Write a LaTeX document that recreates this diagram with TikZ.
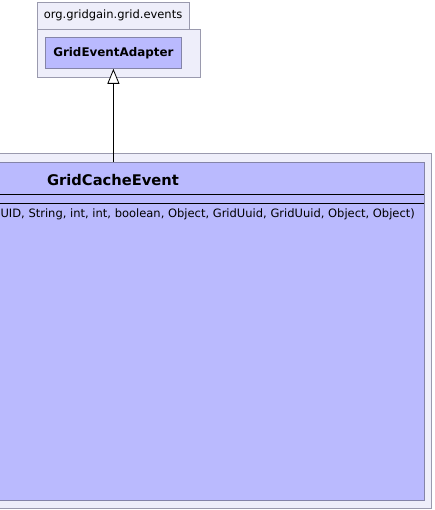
\documentclass[tikz,border=0pt]{standalone}
\usepackage{fontspec}
\setmainfont{DejaVu Sans}
\usetikzlibrary{arrows.meta}
\definecolor{pkgfill}{HTML}{EEEEFA}
\definecolor{pkgline}{HTML}{9A9AAE}
\definecolor{clsfill}{HTML}{BABAFE}
\definecolor{clsline}{HTML}{8484A8}
\begin{document}
\begin{tikzpicture}[x=1pt,y=-1pt,
  pkg/.style={draw=pkgline, fill=pkgfill, line width=0.8pt, inner sep=0pt, anchor=north west},
  cls/.style={draw=clsline, fill=clsfill, line width=0.8pt, inner sep=0pt, anchor=north west},
  lbl/.style={inner sep=0pt, text=black},
  sepline/.style={draw=black, line width=0.8pt},
  inherit/.style={draw=black, line width=0.8pt, -{Triangle[open, length=15pt, width=12pt, fill=white]}}]
\useasboundingbox (0,0) rectangle (434,510);
\clip (0,0) rectangle (434,510);
% upper package
\node[pkg, minimum width=152pt, minimum height=27pt] (pkgtab) at (37,2) {};
\node[pkg, minimum width=163pt, minimum height=48pt] (pkgbody) at (37,29) {};
\node[lbl, font=\fontsize{11.5}{13}\selectfont] (pkgname) at (113,15.5) {org.gridgain.grid.events};
\node[cls, minimum width=136pt, minimum height=31pt] (adapter) at (45,37) {};
\node[lbl, font=\fontsize{11.9}{14}\selectfont\bfseries] (adaptername) at (adapter.center) {GridEventAdapter};
% lower package
\node[pkg, minimum width=461pt, minimum height=355pt] (pkg2) at (-30,153) {};
\node[cls, minimum width=622pt, minimum height=338pt] (cache) at (-198,162) {};
\node[lbl, font=\fontsize{14.7}{17}\selectfont\bfseries] (cachename) at (113,180) {GridCacheEvent};
\coordinate (s1l) at (-198,194);
\coordinate (s1r) at (424,194);
\coordinate (s2l) at (-198,203);
\coordinate (s2r) at (424,203);
\draw[sepline] (s1l) -- (s1r);
\draw[sepline] (s2l) -- (s2r);
\node[lbl, anchor=east, font=\fontsize{11.5}{13}\selectfont] (method) at (415,214) {UUID, String, int, int, boolean, Object, GridUuid, GridUuid, Object, Object)};
% inheritance
\draw[inherit] (cache.north) -- (adapter.south);
\end{tikzpicture}
\end{document}
